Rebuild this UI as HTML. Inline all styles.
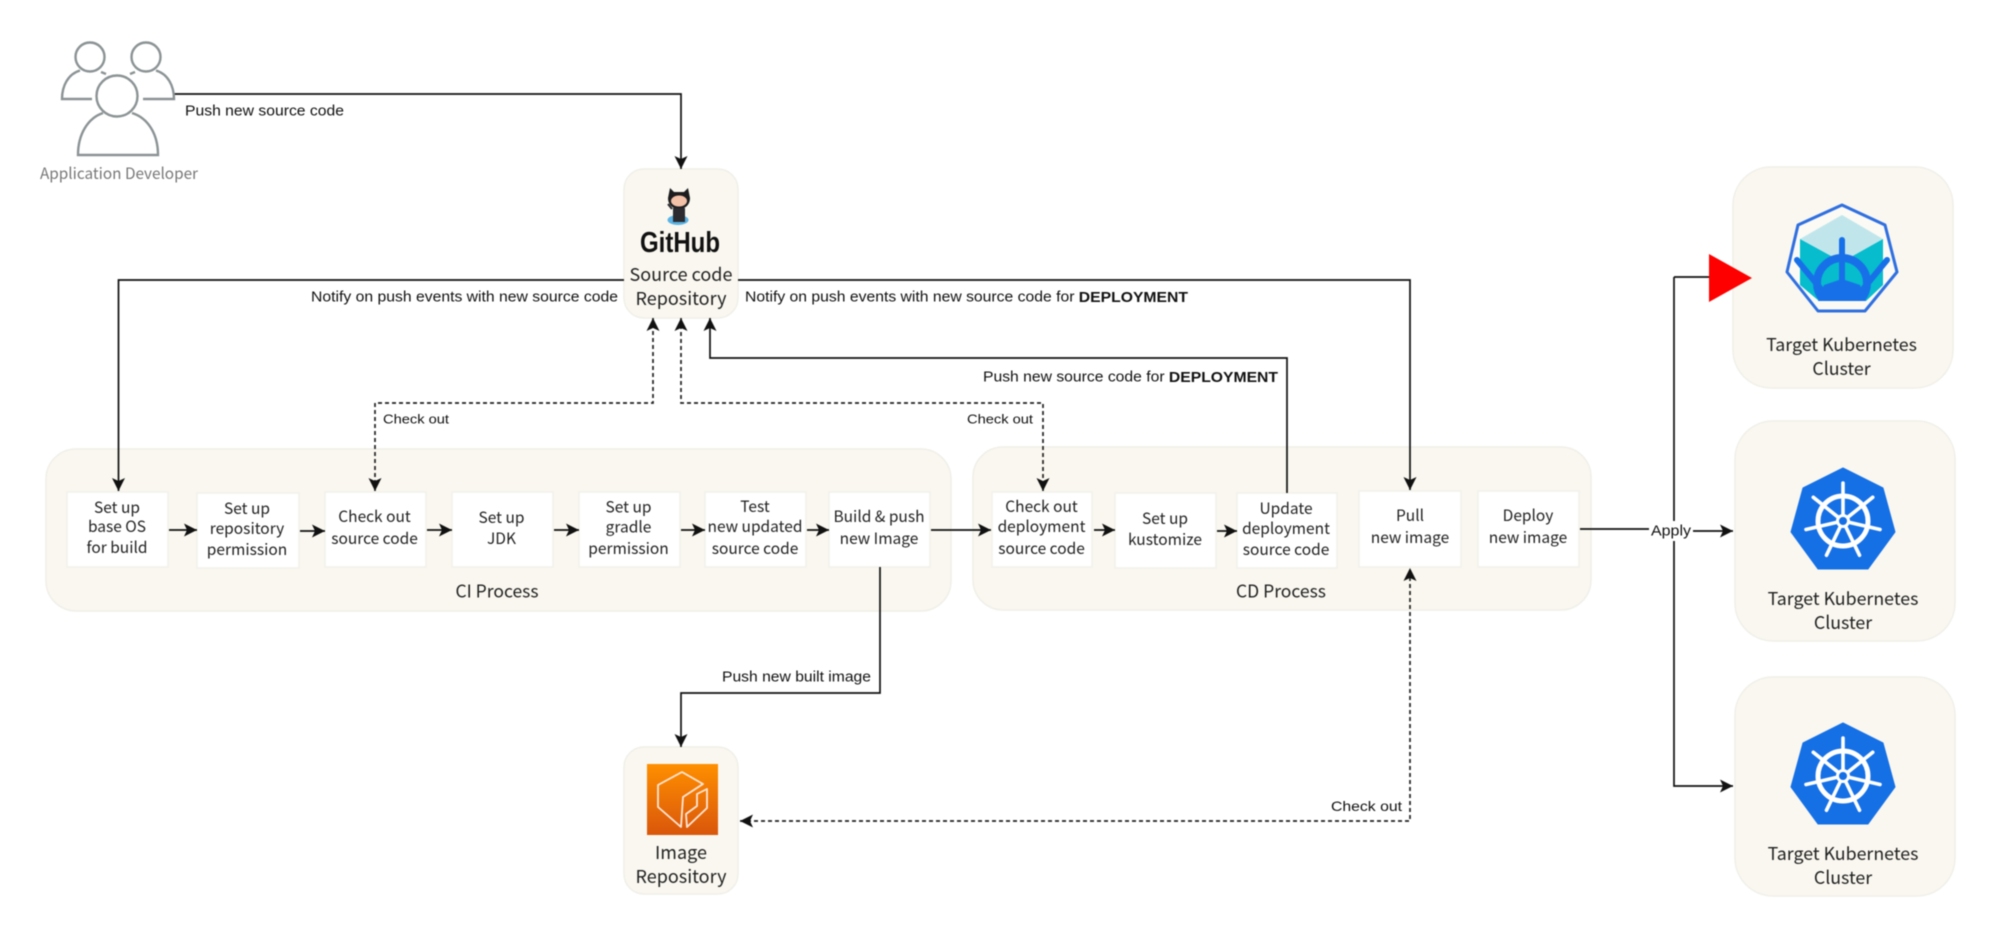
<!DOCTYPE html>
<html>
<head>
<meta charset="utf-8">
<style>
html,body{margin:0;padding:0;background:#fff;width:2000px;height:949px;overflow:hidden}
svg{display:block;filter:blur(.4px)}
.n{font-family:"Noto Sans CJK KR","Liberation Sans",sans-serif;font-size:15.5px;fill:#222;text-anchor:middle;dominant-baseline:central;transform:translateY(-1px)}
.b{font-size:18px}
.t{font-size:17.8px}
.e{font-family:"Liberation Sans",sans-serif;font-size:15px;fill:#111;dominant-baseline:central}
.s{font-size:13px}
.c{fill:#f9f7ef;stroke:#f0efe8;stroke-width:1.5}
.w{fill:#fff;stroke:#f2f1ec;stroke-width:1.5}
.l{fill:none;stroke:#111;stroke-width:1.7}
.d{fill:none;stroke:#222;stroke-width:1.7;stroke-dasharray:4 3}
.p{fill:none;stroke:#8b9394;stroke-width:2.4}
</style>
</head>
<body>
<svg width="2000" height="949" viewBox="0 0 2000 949" xmlns="http://www.w3.org/2000/svg">
<defs>
<marker id="a" markerUnits="userSpaceOnUse" markerWidth="15" markerHeight="15" refX="13" refY="6.500" orient="auto"><path d="M0 0L13 6.500L0 13L3 6.500Z" fill="#111"/></marker>
<marker id="r" markerUnits="userSpaceOnUse" markerWidth="15" markerHeight="15" refX="13" refY="6.500" orient="auto-start-reverse"><path d="M0 0L13 6.500L0 13L3 6.500Z" fill="#111"/></marker>
<linearGradient id="og" x1="0" y1="0" x2="0" y2="1"><stop offset="0" stop-color="#ff8f00"/><stop offset="1" stop-color="#d9560b"/></linearGradient>
<clipPath id="wc"><rect x="1790" y="230" width="104" height="71"/></clipPath>
<g id="wheel" fill="none" stroke="#fff">
<circle r="25" stroke-width="5"/>
<circle r="5.500" stroke-width="3"/>
<g stroke-width="3.600" stroke-linecap="round">
<path d="M0 -6V-38"/>
<path d="M4.700 -3.700L29.700 -23.700"/>
<path d="M5.800 1.300L37 8.500"/>
<path d="M2.600 5.400L16.500 34.200"/>
<path d="M-2.600 5.400L-16.500 34.200"/>
<path d="M-5.800 1.300L-37 8.500"/>
<path d="M-4.700 -3.700L-29.700 -23.700"/>
</g>
</g>
</defs>

<!-- containers -->
<rect class="c" x="46" y="449" width="905" height="162" rx="30"/>
<rect class="c" x="973" y="447" width="618" height="163" rx="30"/>
<rect class="c" x="624" y="169" width="114" height="149" rx="20"/>
<rect class="c" x="624" y="747" width="114" height="147" rx="20"/>
<rect class="c" x="1733" y="167" width="220" height="221" rx="38"/>
<rect class="c" x="1735" y="421" width="220" height="220" rx="38"/>
<rect class="c" x="1735" y="677" width="220" height="219" rx="38"/>

<!-- step boxes -->
<rect class="w" x="67" y="492" width="101" height="75"/>
<rect class="w" x="197" y="493" width="102" height="75"/>
<rect class="w" x="325" y="492" width="101" height="75"/>
<rect class="w" x="452" y="492" width="101" height="75"/>
<rect class="w" x="579" y="492" width="101" height="75"/>
<rect class="w" x="705" y="492" width="101" height="75"/>
<rect class="w" x="829" y="492" width="101" height="75"/>
<rect class="w" x="992" y="492" width="100" height="75"/>
<rect class="w" x="1115" y="493" width="101" height="75"/>
<rect class="w" x="1237" y="493" width="100" height="75"/>
<rect class="w" x="1359" y="491" width="102" height="76"/>
<rect class="w" x="1478" y="491" width="101" height="76"/>

<!-- connectors -->
<path class="l" d="M174 94H681V169" marker-end="url(#a)"/>
<path class="l" d="M624 280H118.500V491" marker-end="url(#a)"/>
<path class="l" d="M738 280H1410V490" marker-end="url(#a)"/>
<path class="l" d="M1287 493V358H710V318" marker-end="url(#a)"/>
<path class="d" d="M375 491V403H653V318" marker-start="url(#r)" marker-end="url(#a)"/>
<path class="d" d="M681 318V403H1043V491" marker-start="url(#r)" marker-end="url(#a)"/>
<path class="l" d="M880 567V693H681V747" marker-end="url(#a)"/>
<path class="d" d="M740 821H1410V568" marker-start="url(#r)" marker-end="url(#a)"/>
<path class="l" d="M169 530H197" marker-end="url(#a)"/>
<path class="l" d="M300 531H325" marker-end="url(#a)"/>
<path class="l" d="M427 530H452" marker-end="url(#a)"/>
<path class="l" d="M554 530H579" marker-end="url(#a)"/>
<path class="l" d="M681 530H705" marker-end="url(#a)"/>
<path class="l" d="M807 530H829" marker-end="url(#a)"/>
<path class="l" d="M931 530H991" marker-end="url(#a)"/>
<path class="l" d="M1094 530H1115" marker-end="url(#a)"/>
<path class="l" d="M1217 531H1237" marker-end="url(#a)"/>
<path class="l" d="M1674 277V786H1733" marker-end="url(#a)"/>
<path class="l" d="M1674 277H1710"/>
<rect x="1649" y="521" width="44" height="20" fill="#fff"/>
<path class="l" d="M1580 529H1649"/>
<path class="l" d="M1693 531H1733" marker-end="url(#a)"/>
<polygon points="1709,254 1752,278 1709,302" fill="#fe0000"/>

<!-- developers icon -->
<circle class="p" cx="90" cy="57" r="14.500"/>
<circle class="p" cx="146" cy="57" r="14.500"/>
<path class="p" d="M92 99H62C62 86 68 74 80 70.500M101 72L106 74"/>
<path class="p" d="M143 99H174C174 86 168 74 156 70.500M135 72L130 74"/>
<circle class="p" cx="117" cy="96" r="20.500"/>
<path class="p" d="M103 113C88 118 78 134 78 155H158C158 134 148 118 132 113"/>

<!-- octocat -->
<ellipse cx="678" cy="220" rx="10.500" ry="5" fill="#5ab3e4"/>
<path d="M670 188L674 192H684L688 188L690 198C690 205 685 209 679 209C673 209 668 205 668 198Z" fill="#1d1d1f"/>
<ellipse cx="679" cy="201" rx="8" ry="5.500" fill="#f3c0a8"/>
<path d="M673 208H685V222H673Z" fill="#2b2b30"/>
<path d="M672 209L668 204" stroke="#2b2b30" stroke-width="2" fill="none"/>

<!-- orange registry icon -->
<rect x="647" y="764" width="71" height="71" fill="url(#og)"/>
<path d="M658 785L682 772L703 784L683 797L681 827L658 807Z M707 789V808L687 827L686 814L697 806V794Z" fill="none" stroke="#ffe6d6" stroke-width="1.800" stroke-linejoin="round"/>

<!-- kubernetes outline icon -->
<polygon points="1842,205 1885,225 1897,272 1865,311 1818,311 1787,272 1798,225" fill="#fbfaf5" stroke="#2f6fe0" stroke-width="3" stroke-linejoin="round"/>
<polygon points="1842,215 1883,239 1842,262 1800,239" fill="#c0e6ec"/>
<polygon points="1800,239 1842,262 1883,239 1883,285 1866,301 1819,301 1800,285" fill="#06bccd"/>
<g clip-path="url(#wc)" fill="none" stroke="#1870e8">
<circle cx="1842" cy="283" r="25" stroke-width="8"/>
<g stroke-width="6" stroke-linecap="round">
<path d="M1842 240V300"/>
<path d="M1797 260L1830 300"/>
<path d="M1887 260L1854 300"/>
</g>
</g>
<polygon points="1818,301 1866,301 1860,285 1842,279 1824,285" fill="#1870e8"/>

<!-- kubernetes blue icons -->
<polygon points="1843,468 1883,488 1895,532 1868,569 1818,569 1791,532 1803,488" fill="#1570e6" stroke="#1570e6" stroke-width="1" stroke-linejoin="round"/>
<use href="#wheel" x="1843" y="521"/>
<polygon points="1843,723 1883,743 1895,787 1868,824 1818,824 1791,787 1803,743" fill="#1570e6" stroke="#1570e6" stroke-width="1" stroke-linejoin="round"/>
<use href="#wheel" x="1843" y="776"/>

<!-- edge labels -->
<text class="e" x="185" y="111" textLength="159" lengthAdjust="spacingAndGlyphs">Push new source code</text>
<text class="e" x="311" y="297" textLength="307" lengthAdjust="spacingAndGlyphs">Notify on push events with new source code</text>
<text class="e" x="745" y="297" textLength="443" lengthAdjust="spacingAndGlyphs">Notify on push events with new source code for <tspan font-weight="bold">DEPLOYMENT</tspan></text>
<text class="e" x="983" y="377" textLength="295" lengthAdjust="spacingAndGlyphs">Push new source code for <tspan font-weight="bold">DEPLOYMENT</tspan></text>
<text class="e s" x="383" y="419" textLength="66" lengthAdjust="spacingAndGlyphs">Check out</text>
<text class="e s" x="967" y="419" textLength="66" lengthAdjust="spacingAndGlyphs">Check out</text>
<text class="e s" x="1331" y="806" textLength="71" lengthAdjust="spacingAndGlyphs" style="font-size:14px">Check out</text>
<text class="e" x="722" y="677" textLength="149" lengthAdjust="spacingAndGlyphs">Push new built image</text>
<text class="e" x="1651" y="531" textLength="40" lengthAdjust="spacingAndGlyphs">Apply</text>

<!-- node labels -->
<text class="n" x="119" y="174" style="fill:#777" textLength="158" lengthAdjust="spacingAndGlyphs">Application Developer</text>
<text x="680" y="243" text-anchor="middle" dominant-baseline="central" font-family="Liberation Sans,sans-serif" font-weight="bold" font-size="29" fill="#111" textLength="80" lengthAdjust="spacingAndGlyphs">GitHub</text>
<text class="n b" x="681" y="275">Source code</text>
<text class="n b" x="681" y="299">Repository</text>
<text class="n b" x="681" y="853">Image</text>
<text class="n b" x="681" y="877">Repository</text>

<text class="n" x="117" y="508">Set up</text><text class="n" x="117" y="527">base OS</text><text class="n" x="117" y="548">for build</text>
<text class="n" x="247" y="509">Set up</text><text class="n" x="247" y="529">repository</text><text class="n" x="247" y="550">permission</text>
<text class="n" x="374.500" y="517">Check out</text><text class="n" x="374.500" y="539">source code</text>
<text class="n" x="501.500" y="518">Set up</text><text class="n" x="501.500" y="539">JDK</text>
<text class="n" x="628.500" y="507.500">Set up</text><text class="n" x="628.500" y="527.500">gradle</text><text class="n" x="628.500" y="549">permission</text>
<text class="n" x="755" y="507">Test</text><text class="n" x="755" y="527">new updated</text><text class="n" x="755" y="549">source code</text>
<text class="n" x="879" y="517">Build &amp; push</text><text class="n" x="879" y="539">new Image</text>
<text class="n" x="1041.500" y="507">Check out</text><text class="n" x="1041.500" y="527">deployment</text><text class="n" x="1041.500" y="549">source code</text>
<text class="n" x="1165" y="519">Set up</text><text class="n" x="1165" y="540">kustomize</text>
<text class="n" x="1286" y="509">Update</text><text class="n" x="1286" y="529">deployment</text><text class="n" x="1286" y="550">source code</text>
<text class="n" x="1410" y="516">Pull</text><text class="n" x="1410" y="538">new image</text>
<text class="n" x="1528" y="516">Deploy</text><text class="n" x="1528" y="538">new image</text>

<text class="n" x="497" y="592" style="font-size:17.500px">CI Process</text>
<text class="n" x="1281" y="592" style="font-size:17.500px">CD Process</text>

<text class="n t" x="1841.500" y="345">Target Kubernetes</text><text class="n t" x="1841.500" y="369">Cluster</text>
<text class="n t" x="1843" y="599">Target Kubernetes</text><text class="n t" x="1843" y="623">Cluster</text>
<text class="n t" x="1843" y="854">Target Kubernetes</text><text class="n t" x="1843" y="878">Cluster</text>
</svg>
</body>
</html>
